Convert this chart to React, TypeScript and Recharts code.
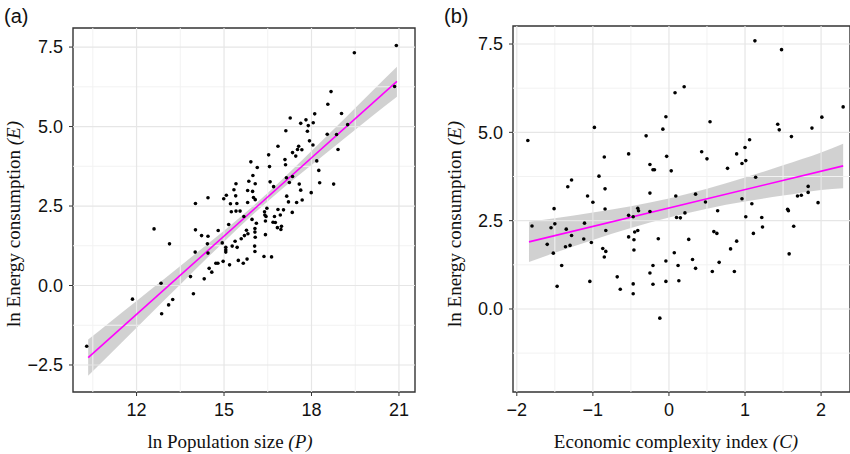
import React from 'react';
import { ComposedChart, Scatter, Line, Area, XAxis, YAxis, ReferenceLine, ReferenceArea } from 'recharts';

// (a) ln population size vs ln energy consumption, one dot per country
const popPoints: [number, number][] = [
  [20.91, 7.55], [19.47, 7.32], [20.85, 6.26], [18.67, 6.1], [18.56, 5.7], [19.03, 5.41], [18.11, 5.4],
  [17.27, 5.27], [17.81, 5.21], [17.63, 5.1], [18.06, 5.12], [17.89, 5.03], [19.24, 5.06], [17.12, 4.87],
  [17.86, 4.85], [18.54, 4.76], [18.86, 4.75], [17.93, 4.55], [18.05, 4.42], [16.85, 4.38], [17.56, 4.38],
  [17.52, 4.28], [18.91, 4.28], [17.35, 4.18], [17.67, 4.27], [16.53, 4.11], [17.46, 4.07], [17.09, 3.96],
  [18.18, 3.92], [15.92, 3.89], [17.11, 3.8], [16.56, 3.74], [16.14, 3.71], [18.25, 3.62], [15.99, 3.46],
  [17.14, 3.39], [17.35, 3.43], [15.85, 3.28], [16.58, 3.26], [17.24, 3.24], [18.28, 3.23], [18.76, 3.19],
  [15.41, 3.2], [16.07, 3.2], [17.58, 3.19], [16.7, 3.11], [15.34, 3.01], [15.81, 2.99], [15.98, 2.96],
  [17.63, 3.0], [17.99, 2.92], [15.08, 2.84], [15.4, 2.82], [17.15, 2.81], [16.01, 2.77], [14.45, 2.76],
  [14.99, 2.73], [16.07, 2.7], [17.68, 2.69], [14.02, 2.58], [15.22, 2.57], [15.44, 2.58], [15.81, 2.61],
  [17.21, 2.63], [17.49, 2.61], [16.47, 2.43], [16.85, 2.39], [17.04, 2.38], [15.25, 2.32], [15.41, 2.34],
  [15.55, 2.34], [16.39, 2.32], [17.34, 2.3], [16.93, 2.22], [15.68, 2.17], [16.4, 2.22], [16.44, 2.17],
  [16.73, 2.17], [15.96, 2.08], [16.11, 1.96], [16.68, 1.99], [16.76, 1.98], [16.42, 2.03], [15.16, 1.92],
  [16.97, 1.86], [16.83, 1.82], [12.6, 1.78], [14.02, 1.75], [14.8, 1.73], [15.77, 1.74], [16.06, 1.79],
  [16.95, 1.76], [14.23, 1.57], [14.45, 1.55], [13.13, 1.31], [14.43, 1.31], [15.38, 1.39], [15.7, 1.57],
  [15.59, 1.47], [16.06, 1.68], [16.07, 1.52], [16.42, 1.6], [14.94, 1.34], [15.28, 1.24], [15.45, 1.2],
  [15.06, 1.2], [15.06, 1.12], [15.06, 1.05], [16.05, 1.24], [16.06, 1.07], [14.01, 1.05], [14.45, 1.02],
  [16.37, 0.91], [16.63, 0.9], [15.79, 0.83], [15.49, 0.79], [15.66, 0.7], [14.97, 0.76], [14.72, 0.7],
  [14.79, 0.7], [15.19, 0.65], [14.49, 0.54], [14.58, 0.42], [13.85, 0.28], [14.32, 0.21], [12.84, 0.07],
  [13.95, -0.26], [11.86, -0.43], [13.24, -0.44], [13.1, -0.61], [12.86, -0.89], [10.29, -1.91], [15.82, 1.63],
];

// (b) economic complexity index vs ln energy consumption
const eciPoints: [number, number][] = [
  [-1.855, 4.77], [1.13, 7.59], [1.48, 7.34], [2.29, 5.72], [0.2, 6.29], [0.08, 6.12], [-0.04, 5.44],
  [2.01, 5.43], [-0.98, 5.14], [1.88, 5.12], [1.43, 5.23], [1.45, 5.07], [-0.08, 5.09], [0.54, 5.3],
  [-0.3, 4.9], [1.61, 4.88], [1.06, 4.79], [1.0, 4.57], [1.01, 4.2], [0.96, 4.12], [0.89, 4.39], [0.43, 4.45],
  [0.5, 4.25], [-0.03, 4.32], [-0.53, 4.39], [-0.85, 4.3], [-0.25, 4.09], [-0.21, 3.94], [-0.19, 3.94],
  [0.03, 3.91], [0.77, 3.98], [1.14, 3.73], [-0.92, 3.76], [-1.28, 3.65], [-1.33, 3.46], [-0.84, 3.4],
  [-1.07, 3.2], [-0.25, 3.28], [0.09, 3.2], [0.35, 3.25], [1.83, 3.47], [1.83, 3.3], [1.69, 3.2], [1.74, 3.22],
  [-1.0, 3.02], [0.48, 3.03], [0.96, 3.12], [1.09, 2.98], [1.96, 3.01], [-1.51, 2.84], [-0.84, 2.83],
  [-0.41, 2.85], [-0.4, 2.78], [-0.25, 2.76], [0.64, 2.78], [1.56, 2.82], [1.57, 2.78], [-0.53, 2.65],
  [-0.47, 2.61], [0.1, 2.59], [0.15, 2.58], [0.21, 2.72], [1.01, 2.61], [1.22, 2.59], [-1.8, 2.35],
  [-1.5, 2.41], [-1.55, 2.3], [-1.35, 2.26], [-1.11, 2.43], [1.23, 2.32], [1.64, 2.34], [-1.28, 2.08],
  [-0.83, 2.22], [-1.6, 1.83], [-1.36, 1.76], [-1.3, 1.8], [-1.52, 1.58], [-1.12, 1.98], [-1.02, 1.88],
  [-0.53, 2.04], [-0.45, 2.18], [-0.41, 2.22], [-0.46, 1.96], [-0.14, 1.99], [-0.87, 1.71], [-0.83, 1.63],
  [-0.85, 1.47], [-0.46, 1.67], [0.07, 1.59], [-1.41, 1.23], [-0.21, 1.23], [-0.04, 1.36], [0.12, 1.23],
  [-0.25, 1.02], [-0.68, 0.91], [-1.04, 0.78], [-1.47, 0.64], [-0.64, 0.56], [-0.47, 0.71], [-0.47, 0.43],
  [-0.21, 0.7], [-0.04, 0.78], [0.13, 0.8], [-0.12, -0.26], [0.59, 2.19], [0.63, 2.14], [1.11, 2.14],
  [0.26, 1.97], [0.89, 1.92], [0.81, 1.7], [1.58, 1.56], [0.31, 1.4], [0.66, 1.32], [0.35, 1.15],
  [0.57, 1.06], [0.86, 1.06],
];

// fitted lines (end points) and confidence bands
const fitPopX = [10.34, 20.93];
const fitPopY = [-2.27, 6.42];
const bandPopX = [10.34, 11, 12, 13, 14, 15, 16, 17, 18, 19, 20, 20.93];
const bandPopLo = [-2.84, -2.24, -1.33, -0.42, 0.49, 1.38, 2.24, 3.04, 3.79, 4.53, 5.27, 5.94];
const bandPopHi = [-1.7, -1.22, -0.49, 0.24, 0.98, 1.72, 2.5, 3.34, 4.23, 5.13, 6.04, 6.88];

const fitEciX = [-1.84, 2.29];
const fitEciY = [1.9, 4.05];
const bandEciX = [-1.84, -1.5, -1, -0.5, 0, 0.5, 1, 1.5, 2, 2.29];
const bandEciLo = [1.33, 1.59, 1.95, 2.29, 2.59, 2.84, 3.04, 3.21, 3.37, 3.42];
const bandEciHi = [2.47, 2.57, 2.73, 2.91, 3.13, 3.4, 3.72, 4.07, 4.43, 4.68];

const popTicks = [12, 15, 18, 21];
const popMinor = [10.5, 13.5, 16.5, 19.5];
const energyTicksA = [-2.5, 0, 2.5, 5, 7.5];
const energyMinorA = [-1.25, 1.25, 3.75, 6.25];
const eciTicks = [-2, -1, 0, 1, 2];
const eciMinor = [-1.5, -0.5, 0.5, 1.5];
const energyTicksB = [0, 2.5, 5, 7.5];
const energyMinorB = [-1.25, 1.25, 3.75, 6.25];

const minus = (s: string) => s.replace('-', '\u2212');
const fmt1 = (v: number) => minus(v.toFixed(1));
const fmt0 = (v: number) => minus(String(v));

const tickFont = { fill: '#111', fontSize: 18, fontFamily: '"Liberation Sans", Arial, sans-serif' };

interface PanelProps {
  left: number;
  top: number;
  right: number;
  yAxisWidth: number;
  xDomain: [number, number];
  yDomain: [number, number];
  xTicks: number[];
  xMinor: number[];
  yTicks: number[];
  yMinor: number[];
  xFmt: (v: number) => string;
  points: [number, number][];
  fitX: number[];
  fitY: number[];
  bandX: number[];
  bandLo: number[];
  bandHi: number[];
}

function Panel(p: PanelProps) {
  const pts = p.points.map(([x, y]) => ({ x, y }));
  const fit = p.fitX.map((x, i) => ({ x, y: p.fitY[i] }));
  const band = p.bandX.map((x, i) => ({ x, band: [p.bandLo[i], p.bandHi[i]] }));
  return (
    <div style={{ position: 'absolute', left: p.left, top: 0 }}>
      <ComposedChart width={425} height={454} margin={{ top: p.top, right: p.right, bottom: 0, left: 0 }}>
        {p.xMinor.map(v => (
          <ReferenceLine key={'xm' + v} x={v} stroke="#f2f2f2" strokeWidth={1} />
        ))}
        {p.yMinor.map(v => (
          <ReferenceLine key={'ym' + v} y={v} stroke="#f2f2f2" strokeWidth={1} />
        ))}
        {p.xTicks.map(v => (
          <ReferenceLine key={'x' + v} x={v} stroke="#e6e6e6" strokeWidth={1.2} />
        ))}
        {p.yTicks.map(v => (
          <ReferenceLine key={'y' + v} y={v} stroke="#e6e6e6" strokeWidth={1.2} />
        ))}
        <XAxis
          dataKey="x"
          type="number"
          domain={p.xDomain}
          ticks={p.xTicks}
          interval={0}
          allowDataOverflow
          tickFormatter={p.xFmt}
          height={62}
          tickSize={4}
          tickMargin={7}
          axisLine={false}
          tickLine={{ stroke: '#333' }}
          tick={tickFont}
        />
        <YAxis
          dataKey="y"
          type="number"
          domain={p.yDomain}
          ticks={p.yTicks}
          interval={0}
          allowDataOverflow
          tickFormatter={fmt1}
          width={p.yAxisWidth}
          tickSize={4}
          tickMargin={6}
          axisLine={false}
          tickLine={{ stroke: '#333' }}
          tick={tickFont}
        />
        <Area
          data={band}
          dataKey="band"
          type="monotone"
          stroke="none"
          fill="#999999"
          fillOpacity={0.45}
          isAnimationActive={false}
        />
        <Line
          data={fit}
          dataKey="y"
          type="linear"
          stroke="#ff00ff"
          strokeWidth={1.6}
          dot={false}
          isAnimationActive={false}
        />
        <Scatter
          data={pts}
          fill="#000"
          isAnimationActive={false}
          shape={(s: any) => <circle cx={s.cx} cy={s.cy} r={1.8} fill="#000" />}
        />
        <ReferenceArea
          x1={p.xDomain[0]}
          x2={p.xDomain[1]}
          y1={p.yDomain[0]}
          y2={p.yDomain[1]}
          fill="none"
          fillOpacity={0}
          stroke="#333"
          strokeWidth={1.4}
          ifOverflow="visible"
        />
      </ComposedChart>
    </div>
  );
}

const serif = '"Liberation Serif", "Times New Roman", serif';
const sans = '"Liberation Sans", Arial, sans-serif';

export default function App() {
  return (
    <div style={{ position: 'absolute', left: 0, top: 0, width: 850, height: 454, overflow: 'hidden', background: '#fff' }}>
      <Panel
        left={0}
        top={28}
        right={10}
        yAxisWidth={73}
        xDomain={[9.82, 21.55]}
        yDomain={[-3.35, 8.1]}
        xTicks={popTicks}
        xMinor={popMinor}
        yTicks={energyTicksA}
        yMinor={energyMinorA}
        xFmt={fmt0}
        points={popPoints}
        fitX={fitPopX}
        fitY={fitPopY}
        bandX={bandPopX}
        bandLo={bandPopLo}
        bandHi={bandPopHi}
      />
      <Panel
        left={425}
        top={26}
        right={0}
        yAxisWidth={88}
        xDomain={[-2.05, 2.38]}
        yDomain={[-2.35, 8.01]}
        xTicks={eciTicks}
        xMinor={eciMinor}
        yTicks={energyTicksB}
        yMinor={energyMinorB}
        xFmt={fmt0}
        points={eciPoints}
        fitX={fitEciX}
        fitY={fitEciY}
        bandX={bandEciX}
        bandLo={bandEciLo}
        bandHi={bandEciHi}
      />
      <svg width={850} height={454} style={{ position: 'absolute', left: 0, top: 0, pointerEvents: 'none' }}>
        <text x={4} y={23} fontFamily={sans} fontSize={20} fill="#111">(a)</text>
        <text x={444} y={23} fontFamily={sans} fontSize={20} fill="#111">(b)</text>
        <text x={230} y={448} textAnchor="middle" fontFamily={serif} fontSize={19} fill="#111">
          ln Population size <tspan fontStyle="italic">(P)</tspan>
        </text>
        <text x={676} y={448} textAnchor="middle" fontFamily={serif} fontSize={19} fill="#111">
          Economic complexity index <tspan fontStyle="italic">(C)</tspan>
        </text>
        <text x={20} y={224} transform="rotate(-90 20 224)" textAnchor="middle" fontFamily={serif} fontSize={19} fill="#111">
          ln Energy consumption <tspan fontStyle="italic">(E)</tspan>
        </text>
        <text x={461} y={224} transform="rotate(-90 461 224)" textAnchor="middle" fontFamily={serif} fontSize={19} fill="#111">
          ln Energy consumption <tspan fontStyle="italic">(E)</tspan>
        </text>
      </svg>
    </div>
  );
}
